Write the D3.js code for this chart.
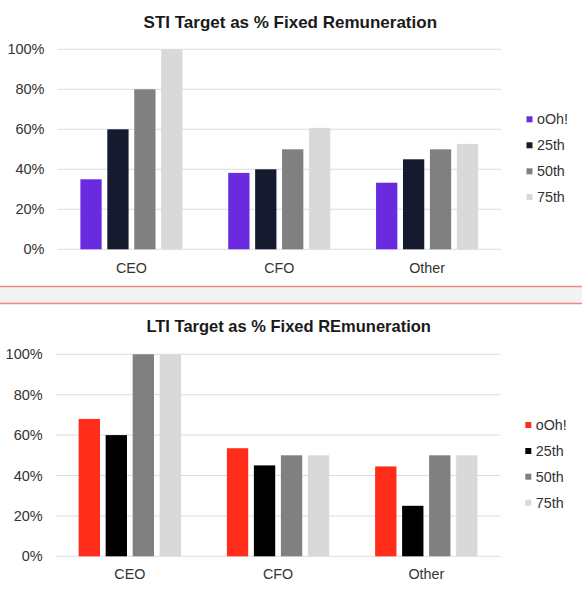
<!DOCTYPE html>
<html>
<head>
<meta charset="utf-8">
<script src="https://cdn.jsdelivr.net/npm/d3@7"></script>
<style>
  body { margin: 0; background: #fff; }
  text { font-family: "Liberation Sans", Arial, sans-serif; }
</style>
</head>
<body>
<script>
const width = 582,
  height = 589;

// categories / series
const roles = ["CEO", "CFO", "Other"];
const seriesNames = ["oOh!", "25th", "50th", "75th"];
const yTicks = [0, 20, 40, 60, 80, 100];

// STI values (%)
const stiOoh = [35, 38.2, 33.3];
const sti25 = [60, 40, 45];
const sti50 = [80, 50, 50];
const sti75 = [100, 60.7, 52.7];

// LTI values (%)
const ltiOoh = [68, 53.5, 44.5];
const lti25 = [60, 45, 25];
const lti50 = [100, 50, 50];
const lti75 = [100, 50, 50];

const stiColors = ["#6a2ae0", "#151a2e", "#808080", "#d9d9d9"];
const ltiColors = ["#ff2d1a", "#000000", "#808080", "#d9d9d9"];

const svg = d3
  .select("body")
  .append("svg")
  .attr("width", width)
  .attr("height", height);

//////// separator band ////////
svg
  .append("rect")
  .attr("x", 0)
  .attr("y", 286.5)
  .attr("width", width)
  .attr("height", 17)
  .attr("fill", "#f2f2f2");
[286.5, 303.5].forEach((y) =>
  svg
    .append("line")
    .attr("x1", 0)
    .attr("x2", width)
    .attr("y1", y)
    .attr("y2", y)
    .attr("stroke", "#ec8a80")
    .attr("stroke-width", 1.3)
);

drawChart({
  title: "STI Target as % Fixed Remuneration",
  titleX: 290.3,
  titleY: 27.5,
  titleSize: 17,
  values: [stiOoh, sti25, sti50, sti75],
  colors: stiColors,
  left: 57.5,
  right: 501,
  top: 49.3,
  bottom: 249.3,
  catY: 272.7,
  legendX: 526.5,
  legendY: [119.3, 145.3, 171.3, 197],
});

drawChart({
  title: "LTI Target as % Fixed REmuneration",
  titleX: 288.7,
  titleY: 331.5,
  titleSize: 16.5,
  values: [ltiOoh, lti25, lti50, lti75],
  colors: ltiColors,
  left: 55.7,
  right: 500.4,
  top: 354.3,
  bottom: 556.3,
  catY: 579,
  legendX: 525.3,
  legendY: [425, 451, 476.7, 502.7],
});

function drawChart(cfg) {
  const g = svg.append("g");

  // title
  g.append("text")
    .attr("x", cfg.titleX)
    .attr("y", cfg.titleY)
    .attr("text-anchor", "middle")
    .attr("font-size", cfg.titleSize)
    .attr("font-weight", "bold")
    .attr("fill", "#1a1a1a")
    .text(cfg.title);

  const y = d3.scaleLinear().domain([0, 100]).range([cfg.bottom, cfg.top]);
  const x0 = d3.scaleBand().domain(roles).range([cfg.left, cfg.right]);
  const x1 = d3
    .scaleBand()
    .domain(seriesNames)
    .range([0, x0.bandwidth()])
    .paddingInner(0.21)
    .paddingOuter(0.85);

  // gridlines
  g.append("g")
    .selectAll("line")
    .data(yTicks)
    .enter()
    .append("line")
    .attr("x1", cfg.left)
    .attr("x2", cfg.right)
    .attr("y1", (d) => y(d))
    .attr("y2", (d) => y(d))
    .attr("stroke", "#dcdce6")
    .attr("stroke-width", 1);

  // y labels
  g.append("g")
    .selectAll("text")
    .data(yTicks)
    .enter()
    .append("text")
    .attr("x", cfg.left - 13)
    .attr("y", (d) => y(d))
    .attr("dy", "0.35em")
    .attr("text-anchor", "end")
    .attr("font-size", 14.5)
    .attr("fill", "#333")
    .text((d) => d + "%");

  // bars
  const rows = [];
  roles.forEach((r, i) =>
    seriesNames.forEach((s, j) =>
      rows.push({ role: r, series: s, j, value: cfg.values[j][i] })
    )
  );

  g.append("g")
    .selectAll("rect")
    .data(rows)
    .enter()
    .append("rect")
    .attr("x", (d) => x0(d.role) + x1(d.series))
    .attr("y", (d) => y(d.value))
    .attr("width", x1.bandwidth())
    .attr("height", (d) => y(0) - y(d.value))
    .attr("fill", (d) => cfg.colors[d.j]);

  // category labels
  g.append("g")
    .selectAll("text")
    .data(roles)
    .enter()
    .append("text")
    .attr("x", (d) => x0(d) + x0.bandwidth() / 2)
    .attr("y", cfg.catY)
    .attr("text-anchor", "middle")
    .attr("font-size", 14.3)
    .attr("fill", "#333")
    .text((d) => d);

  // legend
  const legend = g.append("g");
  seriesNames.forEach((s, j) => {
    legend
      .append("rect")
      .attr("x", cfg.legendX)
      .attr("y", cfg.legendY[j] - 3)
      .attr("width", 6)
      .attr("height", 6)
      .attr("fill", cfg.colors[j]);
    legend
      .append("text")
      .attr("x", cfg.legendX + 10.5)
      .attr("y", cfg.legendY[j])
      .attr("dy", "0.35em")
      .attr("font-size", 14.3)
      .attr("fill", "#333")
      .text(s);
  });
}
</script>
</body>
</html>
